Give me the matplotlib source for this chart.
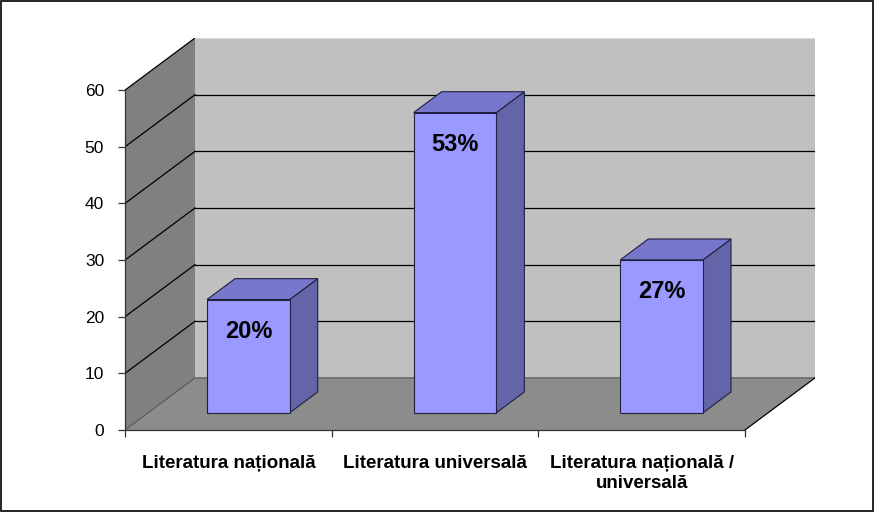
import matplotlib
matplotlib.use("Agg")
import matplotlib.pyplot as plt
from matplotlib.patches import Polygon, Rectangle

plt.rcParams['font.family'] = ['Liberation Sans', 'DejaVu Sans']

categories = ['Literatura națională', 'Literatura universală', 'Literatura națională /\nuniversală']
values = [20, 53, 27]
labels = ['20%', '53%', '27%']
yticks = [0, 10, 20, 30, 40, 50, 60]
ymax = 60

# oblique depth offset (data units) and bar geometry
DX, DY = 0.339, 9.2
d0, d1 = 0.33, 0.73
bw = 0.4


def proj(x, v, d):
    return (x + d * DX, v + d * DY)


fig = plt.figure(figsize=(8.75, 5.12), dpi=100)
ax = fig.add_axes([125 / 875, 82 / 512, 690 / 875, 392 / 512])
n = len(categories)
ax.set_xlim(0, n + DX)
ax.set_ylim(0, ymax + DY)
for s in ax.spines.values():
    s.set_visible(False)
ax.patch.set_visible(False)

# walls and floor
left_wall = Polygon([proj(0, 0, 0), proj(0, ymax, 0), proj(0, ymax, 1), proj(0, 0, 1)],
                    closed=True, fc='#808080', ec='none', zorder=1)
back_wall = Polygon([proj(0, 0, 1), proj(0, ymax, 1), proj(n, ymax, 1), proj(n, 0, 1)],
                    closed=True, fc='#c0c0c0', ec='none', zorder=1)
floor = Polygon([proj(0, 0, 0), proj(n, 0, 0), proj(n, 0, 1), proj(0, 0, 1)],
                closed=True, fc='#8c8c8c', ec='none', zorder=1)
for p in (left_wall, back_wall, floor):
    ax.add_patch(p)

# gridlines
for v in yticks[1:]:
    x0, y0 = proj(0, v, 0)
    x1, y1 = proj(0, v, 1)
    x2, y2 = proj(n, v, 1)
    ax.plot([x0, x1], [y0, y1], color='black', lw=0.9, zorder=2)
    if v < ymax:
        ax.plot([x1, x2], [y1, y2], color='black', lw=0.9, zorder=2)
ax.plot(*zip(proj(0, ymax, 1), proj(n, ymax, 1)), color='#d8d8d8', lw=0.8, zorder=2)
ax.plot(*zip(proj(0, 0, 0), proj(0, 0, 1), proj(n, 0, 1)), color='#555555', lw=0.8, zorder=2)
ax.plot(*zip(proj(n, 0, 0), proj(n, 0, 1)), color='black', lw=0.9, zorder=2)
# front axis lines
ax.plot([0, 0], [0, ymax], color='#333333', lw=0.9, zorder=2, clip_on=False)
ax.plot([0, n], [0, 0], color='#333333', lw=0.9, zorder=2, clip_on=False)

# 3D bars
for i, v in enumerate(values):
    c = i + 0.485
    xl = c - bw / 2
    xr = c + bw / 2
    front = [proj(xl, 0, d0), proj(xl, v, d0), proj(xr, v, d0), proj(xr, 0, d0)]
    top = [proj(xl, v, d0), proj(xl, v, d1), proj(xr, v, d1), proj(xr, v, d0)]
    side = [proj(xr, 0, d0), proj(xr, v, d0), proj(xr, v, d1), proj(xr, 0, d1)]
    ax.add_patch(Polygon(side, closed=True, fc='#6464a8', ec='#202040', lw=0.8, zorder=3))
    ax.add_patch(Polygon(top, closed=True, fc='#7777cc', ec='#202040', lw=0.8, zorder=3))
    ax.add_patch(Polygon(front, closed=True, fc='#9999ff', ec='#202040', lw=0.8, zorder=4))
    tx, ty = proj(c, v, d0)
    ax.annotate(labels[i], (tx, ty), xytext=(0, -32), textcoords='offset pixels',
                ha='center', va='center', fontsize=17, fontweight='bold', zorder=5)

# ticks
ax.set_yticks(yticks)
ax.set_yticklabels([str(t) for t in yticks], fontsize=12.5)
ax.tick_params(axis='y', length=5, width=0.9, color='#333333', pad=10)
ax.set_xticks([i + 0.5 for i in range(n)])
ax.set_xticklabels(categories, fontsize=13.5, fontweight='bold')
ax.set_xticks(list(range(n + 1)), minor=True)
ax.tick_params(axis='x', which='major', length=0, pad=18)
ax.tick_params(axis='x', which='minor', length=5, width=0.9, color='#333333')

fig.patches.append(Rectangle((0.001, 0.002), 0.997, 0.996, transform=fig.transFigure,
                             fill=False, ec='black', lw=1.2))
fig.savefig('out.png', dpi=100)
